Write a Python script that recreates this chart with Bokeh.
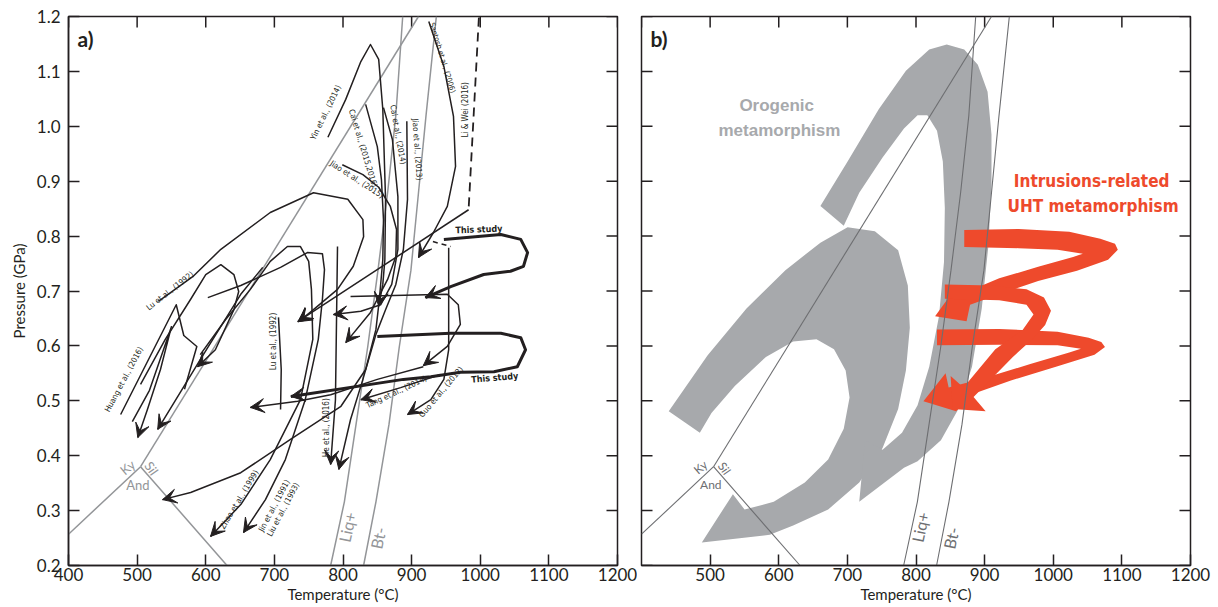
from bokeh.plotting import figure
from bokeh.layouts import row
from bokeh.models import (Range1d, FixedTicker, PrintfTickFormatter,
                          ColumnDataSource, Arrow, VeeHead)
from bokeh.core.properties import value
from bokeh.embed import file_html
from bokeh.resources import INLINE

# ---------------- axes ----------------
T_TICKS = [400, 500, 600, 700, 800, 900, 1000, 1100, 1200]
P_TICKS = [0.2, 0.3, 0.4, 0.5, 0.6, 0.7, 0.8, 0.9, 1.0, 1.1, 1.2]
T_LABELLED_B = [500, 600, 700, 800, 900, 1000, 1100, 1200]

# ---------------- phase boundaries (T degC, P GPa) ----------------
KY_SIL_T = [505, 910]
KY_SIL_P = [0.38, 1.20]
KY_AND_T = [400, 505]
KY_AND_P = [0.257, 0.38]
AND_SIL_T = [505, 631]
AND_SIL_P = [0.38, 0.20]
LIQ_T = [782, 802, 819, 836, 851, 865, 877, 887]
LIQ_P = [0.20, 0.316, 0.457, 0.598, 0.738, 0.879, 1.020, 1.20]
BT_T = [830, 848, 867, 882, 899, 910, 921, 936]
BT_P = [0.20, 0.316, 0.457, 0.598, 0.738, 0.879, 1.020, 1.20]

# ---------------- panel a: published P-T paths ----------------
LU92_T = [531, 581, 622, 694, 757, 807, 829, 830, 815, 792, 757, 735]
LU92_P = [0.681, 0.726, 0.776, 0.843, 0.879, 0.867, 0.830, 0.799, 0.745, 0.703, 0.666, 0.644]
LU92B_T = [505, 541, 578, 600, 622, 641, 648, 641, 614, 588]
LU92B_P = [0.530, 0.612, 0.685, 0.730, 0.748, 0.730, 0.699, 0.666, 0.593, 0.562]
LU92C_T = [706, 710, 709]
LU92C_P = [0.652, 0.557, 0.484]
HUANG1_T = [476, 557, 568, 587, 569]
HUANG1_P = [0.475, 0.675, 0.619, 0.599, 0.521]
HUANG2_T = [493, 518, 550, 534, 515, 501]
HUANG2_P = [0.462, 0.519, 0.635, 0.557, 0.484, 0.433]
HUANG3_T = [683, 651, 592, 530]
HUANG3_P = [0.743, 0.694, 0.575, 0.448]
ZHAO_T = [592, 629, 665, 694, 719, 738, 750, 754, 756, 738, 694, 651, 607]
ZHAO_P = [0.584, 0.648, 0.703, 0.754, 0.781, 0.781, 0.754, 0.703, 0.612, 0.502, 0.393, 0.311, 0.253]
JIN_T = [603, 651, 709, 748, 770, 773, 770, 764, 745, 716, 687, 655]
JIN_P = [0.688, 0.710, 0.743, 0.770, 0.768, 0.739, 0.685, 0.612, 0.502, 0.393, 0.320, 0.260]
HE_T = [792, 789, 782]
HE_P = [0.781, 0.502, 0.384]
YIN_T = [778, 804, 826, 840, 852, 858, 862, 861, 858, 852]
YIN_P = [0.980, 1.049, 1.118, 1.149, 1.122, 1.031, 0.867, 0.757, 0.712, 0.672]
CAI16_T = [833, 850, 856, 859, 858, 853, 848, 833, 797, 724, 651, 578, 537]
CAI16_P = [1.040, 0.963, 0.903, 0.830, 0.757, 0.685, 0.630, 0.557, 0.490, 0.430, 0.369, 0.333, 0.320]
CAI14_T = [859, 872, 880, 880, 871, 855, 826, 786]
CAI14_P = [1.034, 0.976, 0.872, 0.776, 0.712, 0.675, 0.663, 0.657]
JIAO13_T = [893, 894, 888, 877, 862, 848, 829, 811, 794]
JIAO13_P = [1.009, 0.867, 0.776, 0.712, 0.666, 0.621, 0.539, 0.466, 0.375]
JIAO15_T = [799, 829, 852, 869, 878, 877, 865, 840, 804]
JIAO15_P = [0.930, 0.912, 0.889, 0.854, 0.812, 0.763, 0.721, 0.661, 0.606]
SANTOSH_T = [925, 947, 961, 964, 952, 932, 910]
SANTOSH_P = [1.191, 1.109, 1.018, 0.927, 0.854, 0.807, 0.761]
LIWEI_DASH_T = [998, 983]
LIWEI_DASH_P = [1.198, 0.848]
LIWEI_T = [983, 734]
LIWEI_P = [0.848, 0.644]
GUO_DASH_T = [931, 957]
GUO_DASH_P = [0.790, 0.781]
GUO_T = [954, 954, 947, 928, 894]
GUO_P = [0.779, 0.593, 0.539, 0.502, 0.475]
TANG_T = [811, 952, 968, 971, 952, 917]
TANG_P = [0.690, 0.694, 0.675, 0.639, 0.599, 0.564]
TANG2_T = [942, 884, 826]
TANG2_P = [0.548, 0.524, 0.502]
TANG3_T = [917, 850, 782, 734, 665]
TANG3_P = [0.562, 0.539, 0.511, 0.499, 0.488]
THIS1_T = [947, 1030, 1059, 1069, 1063, 1044, 1005, 957, 920]
THIS1_P = [0.794, 0.803, 0.794, 0.770, 0.745, 0.736, 0.730, 0.708, 0.688]
THIS2_T = [850, 957, 1030, 1059, 1066, 1054, 1020, 971, 928, 888, 724]
THIS2_P = [0.617, 0.623, 0.623, 0.615, 0.593, 0.562, 0.553, 0.552, 0.544, 0.539, 0.508]

LABEL_TEXT = ["Lu et al., (1992)", "Huang et al., (2016)", "Lu et al., (1992)",
              "Zhao et al., (1999)", "Jin et al., (1991)", "Liu et al., (1993)",
              "He et al., (2016)", "Tang et al., (2014)", "Guo et al., (2012)",
              "Yin et al., (2014)", "Cai et al., (2015,2016)", "Cai et al., (2014)",
              "Jiao et al., (2013)", "Jiao et al., (2015)", "Santosh et al., (2006)",
              "Li & Wei (2016)"]
LABEL_T = [548, 481, 699, 649, 700, 713, 776, 878, 943, 775, 829, 880, 908, 820, 945, 979]
LABEL_P = [0.700, 0.539, 0.608, 0.320, 0.309, 0.302, 0.451, 0.516, 0.516, 1.025, 0.960,
           0.985, 0.958, 0.903, 1.125, 1.030]
LABEL_ANGLE = [38, 62, 90, 59, 62, 62, 90, 25, 50, 64, -73, -80, -86, -33, -73, 90]
LABEL_SIZE = ["8px"] * 14 + ["7.5px", "8px"]

STUDY_TEXT = ["This study", "This study"]
STUDY_T = [998, 1021]
STUDY_P = [0.812, 0.542]
STUDY_ANGLE = [2, 5]

PHASE_TEXT = ["Ky", "Sil", "And"]
PHASE_T = [486, 521, 501]
PHASE_P = [0.379, 0.377, 0.347]
PHASE_ANGLE = [40, -55, 0]
MELT_TEXT = ["Liq+", "Bt-"]
MELT_T = [806, 851]
MELT_P = [0.27, 0.25]
MELT_ANGLE = [78, 78]

# ---------------- panel b: schematic paths (polygon outlines) ----------------
GRAY_UP_T = [660.7, 700.3, 745.7, 785.3, 819.3, 844.8, 870.3, 890.1, 904.3, 910.0, 910.0,
             905.4, 895.8, 881.6, 861.8, 836.3, 802.3, 782.5, 717.3, 725.8, 751.3, 779.6,
             802.3, 819.3, 833.5, 840.8, 842.0, 839.1, 830.6, 816.5, 802.3, 782.5, 751.3,
             717.3, 694.7]
GRAY_UP_P = [0.855, 0.936, 1.031, 1.101, 1.140, 1.149, 1.140, 1.112, 1.063, 0.985, 0.893,
             0.781, 0.668, 0.562, 0.485, 0.428, 0.390, 0.378, 0.316, 0.428, 0.411, 0.442,
             0.492, 0.562, 0.654, 0.753, 0.851, 0.936, 0.992, 1.020, 1.020, 0.996, 0.943,
             0.879, 0.819]
GRAY_LOW_T = [439.7, 496.4, 553.0, 609.7, 660.7, 700.3, 740.0, 774.0, 788.1, 791.0, 785.3,
              774.0, 751.3, 717.3, 672.0, 621.0, 587.0, 487.9, 533.2, 550.2, 592.7, 638.0,
              672.0, 694.7, 703.2, 697.5, 680.5, 655.0, 621.0, 581.3, 536.0, 502.0, 485.0]
GRAY_LOW_P = [0.481, 0.583, 0.668, 0.738, 0.788, 0.816, 0.809, 0.774, 0.710, 0.633, 0.555,
              0.485, 0.414, 0.351, 0.302, 0.273, 0.256, 0.242, 0.330, 0.302, 0.316, 0.351,
              0.393, 0.449, 0.506, 0.555, 0.594, 0.612, 0.608, 0.580, 0.527, 0.478, 0.442]
RED_A_T = [870.3, 949.6, 1023.3, 1068.6, 1090.0, 1094.1, 1079.9, 1034.6, 978.0, 921.3, 878.8,
           873.7, 827.8, 855.6, 867.5, 921.3, 978.0, 1028.9, 1043.1, 1006.3, 949.6, 870.3]
RED_A_P = [0.811, 0.813, 0.808, 0.795, 0.786, 0.775, 0.757, 0.737, 0.718, 0.694, 0.675,
           0.645, 0.654, 0.702, 0.695, 0.723, 0.744, 0.762, 0.768, 0.775, 0.778, 0.780]
RED_B_T = [842.0, 910.0, 961.0, 986.5, 996.7, 988.2, 969.5, 941.1, 883.9, 901.5, 853.3,
           850.5, 869.2, 915.6, 955.3, 971.2, 961.0, 921.3, 842.0]
RED_B_P = [0.712, 0.710, 0.703, 0.688, 0.664, 0.638, 0.612, 0.580, 0.507, 0.481, 0.485,
           0.545, 0.524, 0.594, 0.629, 0.657, 0.675, 0.683, 0.686]
RED_C_T = [830.6, 921.3, 1006.3, 1051.6, 1070.0, 1075.4, 1060.1, 1006.3, 938.3, 881.6, 858.4,
           810.8, 843.1, 847.6, 898.6, 966.6, 1023.3, 1040.3, 1006.3, 921.3, 830.6]
RED_C_P = [0.630, 0.631, 0.626, 0.615, 0.607, 0.598, 0.584, 0.563, 0.537, 0.512, 0.481,
           0.499, 0.550, 0.524, 0.541, 0.567, 0.588, 0.595, 0.601, 0.602, 0.601]

OROGENIC_TEXT = ["Orogenic", "metamorphism"]
OROGENIC_T = [597, 601]
OROGENIC_P = [1.038, 0.992]
UHT_TEXT = ["Intrusions-related", "UHT metamorphism"]
UHT_T = [1056, 1058]
UHT_P = [0.900, 0.855]

# ---------------- styles ----------------
INK = "#231f20"
PHASE_A = "#939598"
PHASE_B = "#6d6e71"
GRAY_FILL = "#a7a9ac"
RED = "#ee4a2c"
FONT = "Lato"
COND = "DejaVu Sans Condensed, Roboto, sans-serif"
TICK_LEN = 11


def style_axis(ax):
    ax.major_tick_in = TICK_LEN
    ax.major_tick_out = 0
    ax.minor_tick_line_color = None
    ax.axis_line_color = INK
    ax.axis_line_width = 1.5
    ax.major_tick_line_color = INK
    ax.major_tick_line_width = 1.5
    ax.major_label_text_font = FONT
    ax.major_label_text_font_size = "17px"
    ax.major_label_text_color = INK
    ax.major_label_standoff = 2
    ax.axis_label_text_font = FONT
    ax.axis_label_text_font_size = "15px"
    ax.axis_label_text_font_style = "normal"
    ax.axis_label_text_color = INK
    ax.axis_label_standoff = 1


def frame_ticks(p, left_ticks):
    # inward tick marks on the un-labelled sides of the frame
    top = [p.y_range.end] * len(T_TICKS)
    p.ray(x=T_TICKS, y=top, length=TICK_LEN, length_units="screen", angle=-90,
          angle_units="deg", line_color=INK, line_width=1.5)
    right = [p.x_range.end] * len(P_TICKS)
    p.ray(x=right, y=P_TICKS, length=TICK_LEN, length_units="screen", angle=180,
          angle_units="deg", line_color=INK, line_width=1.5)
    if left_ticks:
        left = [p.x_range.start] * len(P_TICKS)
        p.ray(x=left, y=P_TICKS, length=TICK_LEN, length_units="screen", angle=0,
              angle_units="deg", line_color=INK, line_width=1.5)


def make_panel(width, left, right, ylabels, xticks):
    p = figure(width=width, height=606, x_range=Range1d(400, 1200), y_range=Range1d(0.2, 1.2),
               output_backend="svg", toolbar_location=None,
               min_border_left=left, min_border_right=right,
               min_border_top=16, min_border_bottom=41)
    p.grid.visible = False
    p.outline_line_color = INK
    p.outline_line_width = 1.5
    xa = p.xaxis[0]
    xa.ticker = FixedTicker(ticks=xticks)
    style_axis(xa)
    xa.axis_label = "Temperature (°C)"
    ya = p.yaxis[0]
    if ylabels:
        ya.ticker = FixedTicker(ticks=P_TICKS)
        ya.formatter = PrintfTickFormatter(format="%.1f")
        style_axis(ya)
        ya.axis_label = "Pressure (GPa)"
        ya.major_label_standoff = 8
        ya.axis_label_standoff = 6
    else:
        ya.visible = False
    frame_ticks(p, not ylabels)
    return p


def phase_lines(p, color, lw, fs_small, fs_big):
    for t, pr in [(KY_SIL_T, KY_SIL_P), (KY_AND_T, KY_AND_P), (AND_SIL_T, AND_SIL_P),
                  (LIQ_T, LIQ_P), (BT_T, BT_P)]:
        p.line(t, pr, line_color=color, line_width=lw)
    p.text(x=PHASE_T, y=PHASE_P, text=PHASE_TEXT, angle=PHASE_ANGLE, angle_units="deg",
           text_font=value(FONT), text_font_size=value(fs_small), text_color=color,
           text_align="center", text_baseline="middle")
    p.text(x=MELT_T, y=MELT_P, text=MELT_TEXT, angle=MELT_ANGLE, angle_units="deg",
           text_font=value(FONT), text_font_size=value(fs_big), text_color=color,
           text_align="center", text_baseline="middle")


# ================= panel a =================
pa = make_panel(637, 68, 20, True, T_TICKS)
phase_lines(pa, PHASE_A, 1.5, "13px", "16px")

thin_paths = [(LU92_T, LU92_P, True), (LU92B_T, LU92B_P, True), (LU92C_T, LU92C_P, False),
              (HUANG1_T, HUANG1_P, False), (HUANG2_T, HUANG2_P, True),
              (HUANG3_T, HUANG3_P, True), (ZHAO_T, ZHAO_P, True), (JIN_T, JIN_P, True),
              (HE_T, HE_P, True), (YIN_T, YIN_P, True), (CAI16_T, CAI16_P, True),
              (CAI14_T, CAI14_P, True), (JIAO13_T, JIAO13_P, True),
              (JIAO15_T, JIAO15_P, True), (SANTOSH_T, SANTOSH_P, True),
              (LIWEI_T, LIWEI_P, True), (GUO_T, GUO_P, True), (TANG_T, TANG_P, True),
              (TANG2_T, TANG2_P, True), (TANG3_T, TANG3_P, True)]
thick_paths = [(THIS1_T, THIS1_P, True), (THIS2_T, THIS2_P, True)]

for t, pr, _ in thin_paths:
    pa.line(t, pr, line_color=INK, line_width=1.5, line_join="round")
for t, pr, _ in thick_paths:
    pa.line(t, pr, line_color=INK, line_width=3, line_join="round")
pa.line(LIWEI_DASH_T, LIWEI_DASH_P, line_color=INK, line_width=1.8, line_dash="9 6")
pa.line(GUO_DASH_T, GUO_DASH_P, line_color=INK, line_width=1.5, line_dash="5 4")

arrow_src = dict(x0=[], y0=[], x1=[], y1=[])
for t, pr, has in thin_paths + thick_paths:
    if has:
        arrow_src["x0"].append(t[-2])
        arrow_src["y0"].append(pr[-2])
        arrow_src["x1"].append(t[-1])
        arrow_src["y1"].append(pr[-1])
pa.add_layout(Arrow(source=ColumnDataSource(arrow_src), x_start="x0", y_start="y0",
                    x_end="x1", y_end="y1", line_alpha=0,
                    end=VeeHead(size=14, fill_color=INK, line_color=INK, line_width=1)))

pa.text(x="x", y="y", text="text", angle="angle", angle_units="deg",
        source=ColumnDataSource(dict(x=LABEL_T, y=LABEL_P, text=LABEL_TEXT,
                                     angle=LABEL_ANGLE, size=LABEL_SIZE)),
        text_font=value(COND), text_font_size="size", text_color=INK,
        text_align="center", text_baseline="middle")
pa.text(x=STUDY_T, y=STUDY_P, text=STUDY_TEXT, angle=STUDY_ANGLE, angle_units="deg",
        text_font=value(COND), text_font_size=value("9px"), text_font_style="bold",
        text_color=INK, text_align="center", text_baseline="middle")
pa.text(x=[413], y=[1.182], text=["a)"], text_font=value(FONT), text_font_size=value("21px"),
        text_font_style="bold", text_color=INK, text_align="left", text_baseline="top")

# ================= panel b =================
pb = make_panel(575, 4, 22, False, T_LABELLED_B)
pb.patch(GRAY_LOW_T, GRAY_LOW_P, fill_color=GRAY_FILL, line_color=None)
pb.patch(GRAY_UP_T, GRAY_UP_P, fill_color=GRAY_FILL, line_color=None)
pb.patch(RED_A_T, RED_A_P, fill_color=RED, line_color=None)
pb.patch(RED_C_T, RED_C_P, fill_color=RED, line_color=None)
pb.patch(RED_B_T, RED_B_P, fill_color=RED, line_color=None)
phase_lines(pb, PHASE_B, 1.1, "12px", "16px")
pb.text(x=OROGENIC_T, y=OROGENIC_P, text=OROGENIC_TEXT, text_font=value("Liberation Sans"),
        text_font_size=value("17px"), text_font_style="bold", text_color=GRAY_FILL,
        text_align="center", text_baseline="middle")
pb.text(x=UHT_T, y=UHT_P, text=UHT_TEXT, text_font=value(COND),
        text_font_size=value("17px"), text_font_style="bold", text_color=RED,
        text_align="center", text_baseline="middle")
pb.text(x=[413], y=[1.182], text=["b)"], text_font=value(FONT), text_font_size=value("21px"),
        text_font_style="bold", text_color=INK, text_align="left", text_baseline="top")

layout = row(pa, pb, spacing=0)
open("out.html", "w").write(file_html(layout, INLINE, title="P-T paths"))
